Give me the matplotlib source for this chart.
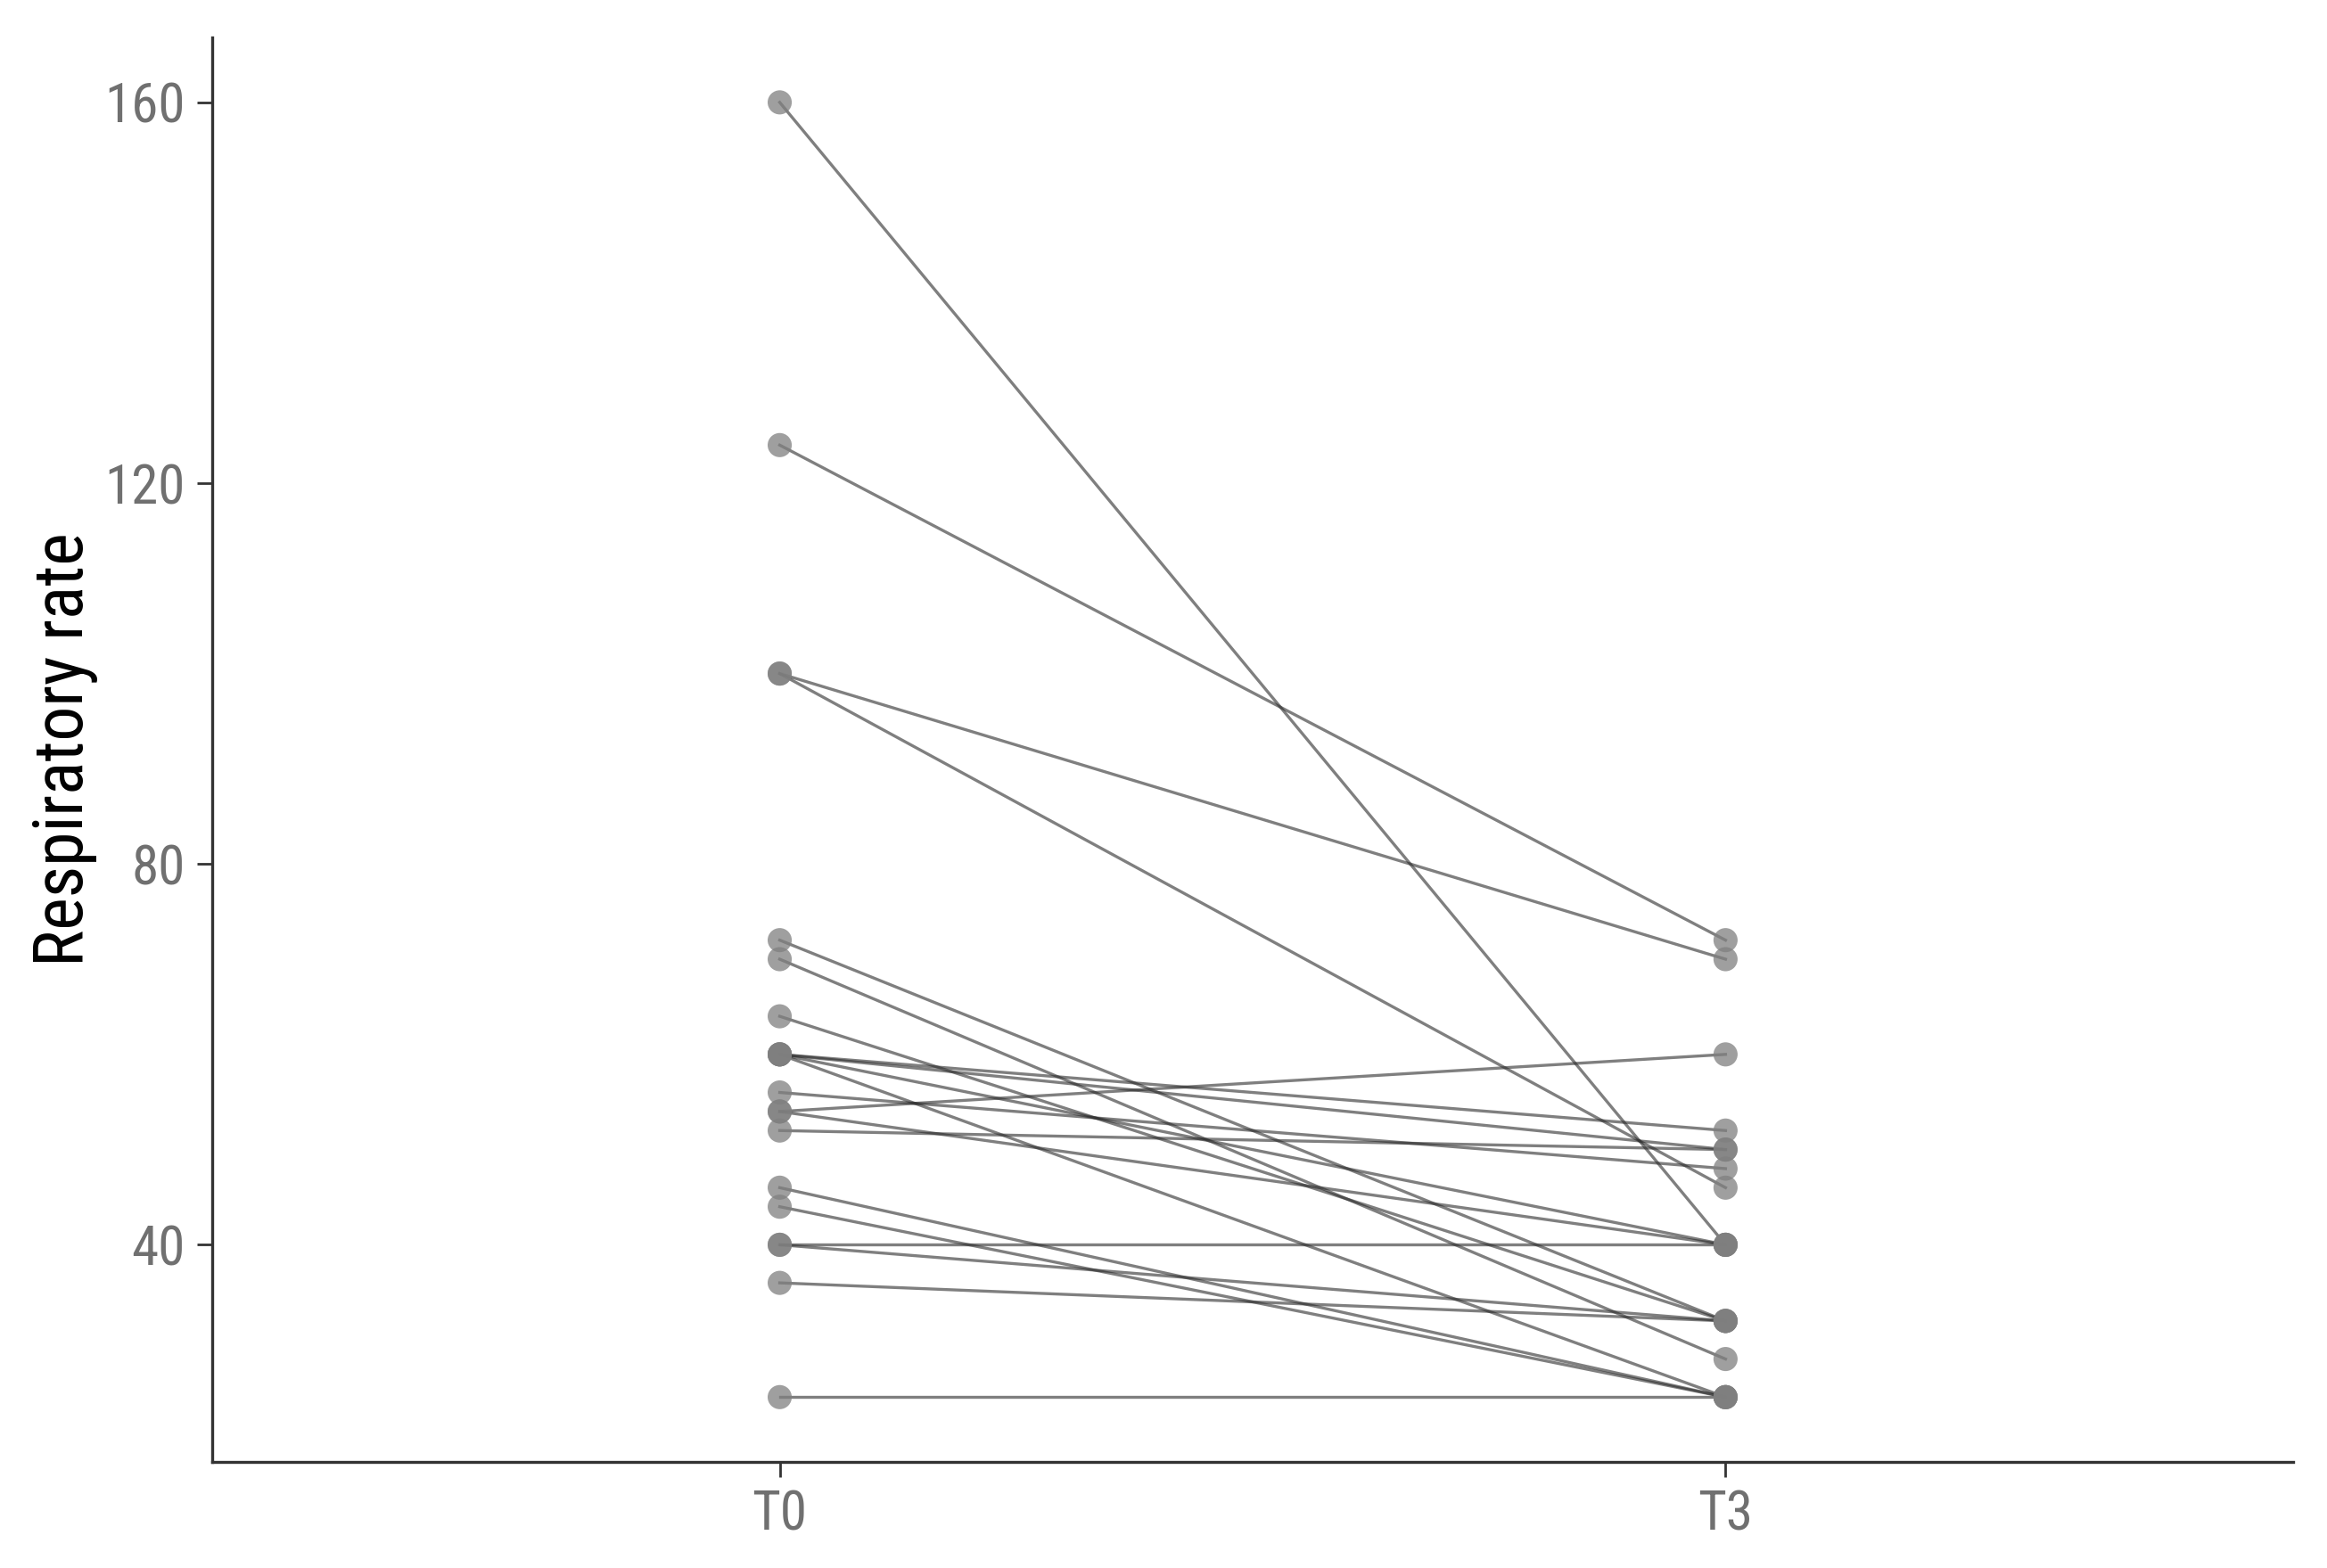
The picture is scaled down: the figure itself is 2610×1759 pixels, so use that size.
import matplotlib.pyplot as plt
from matplotlib import font_manager

# paired respiratory rates, one entry per subject
t0 = [160, 124, 100, 100, 72, 70, 64, 60, 60, 60, 60, 56, 54, 54, 52, 46, 44, 40, 40, 36, 24]
t3 = [40, 72, 70, 46, 32, 28, 32, 52, 50, 40, 24, 48, 60, 40, 50, 24, 24, 40, 32, 32, 24]
times = ["T0", "T3"]
yticks = [40, 80, 120, 160]

names = {f.name for f in font_manager.fontManager.ttflist}
fam = [n for n in ["Liberation Sans Narrow", "Roboto Condensed", "DejaVu Sans Condensed", "Liberation Sans"] if n in names]
plt.rcParams["font.family"] = fam + ["DejaVu Sans"]

fig = plt.figure(figsize=(26.1, 17.59), dpi=100)
ax = fig.add_axes([0.0912, 0.0677, 0.8942, 0.9083])

xs = [1, 2]
for a, b in zip(t0, t3):
    ax.plot(xs, [a, b], color="#2a2a2a", alpha=0.6, lw=2.4, zorder=2)
for a, b in zip(t0, t3):
    ax.scatter(xs, [a, b], s=380, color="#7f7f7f", alpha=0.75, edgecolors="none", zorder=3)

ax.set_xlim(0.4, 2.6)
ax.set_ylim(17.2, 166.8)
ax.set_xticks(xs)
ax.set_xticklabels(times)
ax.set_yticks(yticks)

for s in ["top", "right"]:
    ax.spines[s].set_visible(False)
for s in ["left", "bottom"]:
    ax.spines[s].set_linewidth(2.4)
    ax.spines[s].set_color("#333333")

ax.tick_params(axis="both", length=12, width=2, color="#333333", labelsize=44,
               labelcolor="#707070", pad=10)
ax.set_ylabel("Respiratory rate", fontsize=56, color="black", labelpad=5)

fig.savefig("out.png", dpi=100, facecolor="white")
